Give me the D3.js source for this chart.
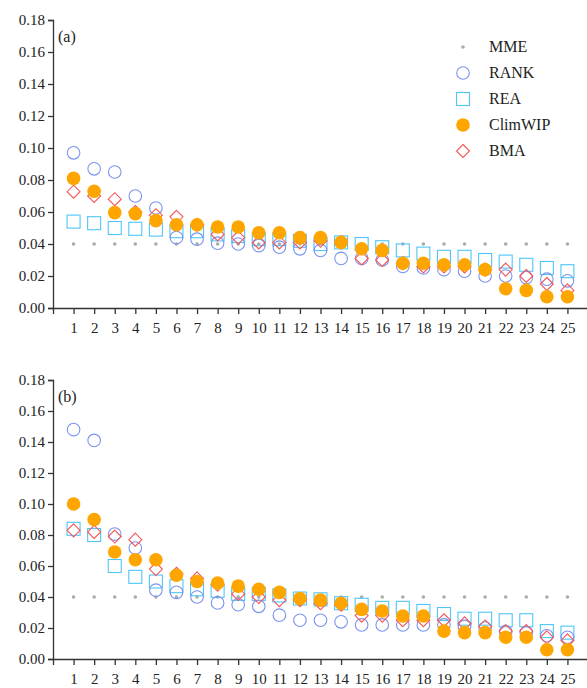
<!DOCTYPE html>
<html><head><meta charset="utf-8">
<script src="https://cdn.jsdelivr.net/npm/d3@7"></script>
<style>body{margin:0;background:#fff}text{font-family:"Liberation Serif",serif;fill:#222}</style>
</head><body><svg id="c" width="587" height="688"></svg>
<script>
var models = d3.range(1, 26);
var yTicks = [0, 0.02, 0.04, 0.06, 0.08, 0.10, 0.12, 0.14, 0.16, 0.18];
var seriesNames = ["MME", "RANK", "REA", "ClimWIP", "BMA"];

// panel (a)
var mmeA = models.map(function() { return 0.04; });
var rankA = [.097,.087,.085,.070,.0625,.044,.043,.0405,.040,.039,.038,.037,.036,.031,.031,.030,.026,.025,.024,.023,.020,.020,.019,.018,.017];
var reaA = [.054,.053,.050,.0495,.049,.048,.048,.046,.045,.043,.043,.042,.040,.041,.040,.038,.036,.034,.032,.032,.030,.029,.027,.025,.023];
var climA = [.081,.073,.0596,.059,.0546,.052,.052,.0506,.0506,.047,.047,.044,.044,.041,.037,.036,.028,.028,.027,.027,.024,.012,.011,.007,.007];
var bmaA = [.0727,.070,.068,.060,.058,.057,.052,.046,.044,.041,.041,.041,.042,.041,.031,.030,.028,.026,.026,.026,.024,.024,.020,.015,.011];

// panel (b)
var mmeB = models.map(function() { return 0.04; });
var rankB = [.148,.141,.0806,.0716,.0444,.043,.040,.0362,.035,.034,.0283,.025,.025,.024,.022,.022,.022,.022,.022,.021,.020,.0176,.017,.015,.014];
var reaB = [.084,.080,.060,.053,.050,.047,.045,.044,.042,.042,.041,.039,.0385,.036,.035,.033,.033,.031,.029,.026,.026,.025,.025,.018,.017];
var climB = [.1,.09,.069,.064,.064,.054,.050,.049,.047,.045,.043,.039,.038,.036,.032,.031,.0277,.0277,.018,.017,.017,.014,.014,.006,.006];
var bmaB = [.083,.082,.079,.077,.058,.055,.052,.048,.042,.040,.038,.038,.036,.035,.028,.028,.025,.025,.025,.023,.021,.018,.018,.014,.012];

var svg = d3.select('#c');
var x = d3.scaleLinear().domain([0, 26]).range([53, 588]);

var styles = {
	MME: {color: '#aaa'},
	RANK: {color: '#7b93ee'},
	REA: {color: '#4fc6f7'},
	ClimWIP: {color: '#ffa500'},
	BMA: {color: '#f4585a'}
};

function drawMark(g, name, cx, cy) {
	var c = styles[name].color;
	if (name == 'MME') {
		g.append('circle').attr('cx', cx).attr('cy', cy).attr('r', 1.8).attr('fill', c);
	} else if (name == 'RANK') {
		g.append('circle').attr('cx', cx).attr('cy', cy).attr('r', 6.3).attr('fill', 'none').attr('stroke', c).attr('stroke-width', 1.1);
	} else if (name == 'REA') {
		g.append('rect').attr('x', cx - 6.5).attr('y', cy - 6.5).attr('width', 13).attr('height', 13).attr('fill', 'none').attr('stroke', c).attr('stroke-width', 1.1);
	} else if (name == 'ClimWIP') {
		g.append('circle').attr('cx', cx).attr('cy', cy).attr('r', 6.8).attr('fill', c);
	} else {
		g.append('path').attr('d', 'M' + cx + ',' + (cy - 6.5) + 'L' + (cx + 6.5) + ',' + cy + 'L' + cx + ',' + (cy + 6.5) + 'L' + (cx - 6.5) + ',' + cy + 'Z')
			.attr('fill', 'none').attr('stroke', c).attr('stroke-width', 1.1);
	}
}

function panel(top, bottom, label, data) {
	var y = d3.scaleLinear().domain([0, 0.18]).range([bottom, top]);
	var g = svg.append('g');

	var ya = g.append('g').attr('transform', 'translate(53,0)')
		.call(d3.axisLeft(y).tickValues(yTicks).tickFormat(d3.format('.2f')).tickSizeOuter(0).tickSize(5));
	ya.selectAll('text').style('font-size', '15px').attr('x', -8);
	var xa = g.append('g').attr('transform', 'translate(0,' + bottom + ')')
		.call(d3.axisBottom(x).tickValues(models).tickFormat(d3.format('d')).tickSizeOuter(0).tickSize(6));
	xa.selectAll('text').style('font-size', '15px').attr('dy', '1.05em');
	g.selectAll('.domain, .tick line').attr('stroke', '#333').attr('stroke-width', 1.3);

	g.append('text').attr('x', 58).attr('y', top + 22).style('font-size', '16px').text(label);

	var m = g.append('g');
	data.forEach(function(d) {
		d.values.forEach(function(v, i) { drawMark(m, d.name, x(models[i]), y(v)); });
	});
}

panel(20, 308, '(a)', [
	{name: 'MME', values: mmeA}, {name: 'REA', values: reaA}, {name: 'RANK', values: rankA},
	{name: 'BMA', values: bmaA}, {name: 'ClimWIP', values: climA}
]);
panel(380, 659, '(b)', [
	{name: 'MME', values: mmeB}, {name: 'REA', values: reaB}, {name: 'RANK', values: rankB},
	{name: 'BMA', values: bmaB}, {name: 'ClimWIP', values: climB}
]);

// legend
var lg = svg.append('g');
seriesNames.forEach(function(n, i) {
	var ly = 47 + i * 26;
	drawMark(lg, n, 463, ly);
	lg.append('text').attr('x', 489).attr('y', ly + 5).style('font-size', '16px').text(n);
});
</script></body></html>
